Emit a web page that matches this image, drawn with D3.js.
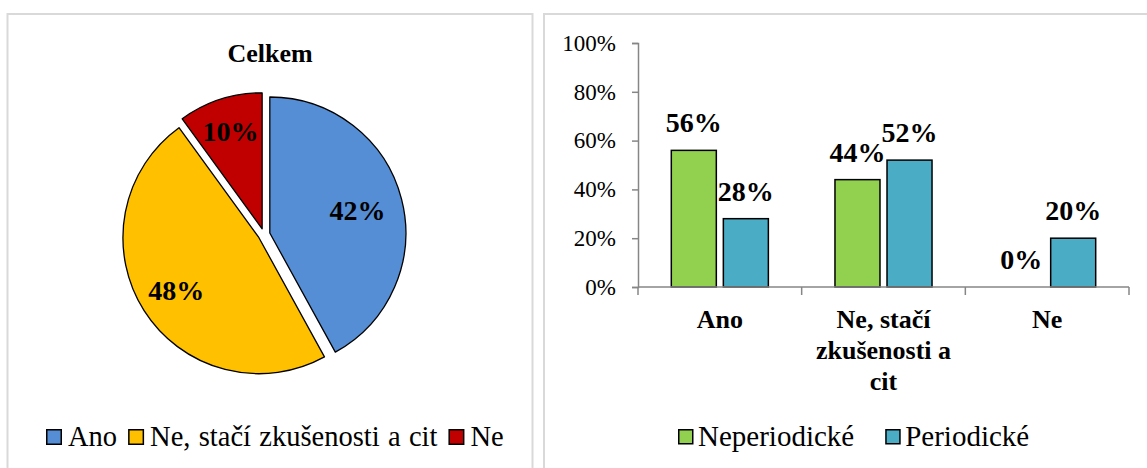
<!DOCTYPE html>
<html>
<head>
<meta charset="utf-8">
<script src="https://cdn.jsdelivr.net/npm/d3@7"></script>
<style>
  html, body { margin: 0; padding: 0; background: #fff; }
  #chart text { font-family: 'Liberation Serif'; }
</style>
</head>
<body>
<svg id="chart" width="1147" height="468"></svg>
<script>
// ---- data ----
const pieTitle = "Celkem";
const pieCategories = ["Ano", "Ne, stačí zkušenosti a cit", "Ne"];
const pieValues = [0.42, 0.48, 0.10];
const pieColors = ["#558ed5", "#ffc000", "#c00000"];

const barCategories = ["Ano", "Ne, stačí zkušenosti a cit", "Ne"];
const seriesNames = ["Neperiodické", "Periodické"];
const neperiodicke = [0.56, 0.44, 0.00];
const periodicke = [0.28, 0.52, 0.20];
const seriesColors = ["#92d050", "#4bacc6"];
const yTicks = [0, 0.2, 0.4, 0.6, 0.8, 1.0];

const FONT = "'Liberation Serif'";
const svg = d3.select("#chart");
const pct = d3.format(".0%");
const txt = (sel) => sel.style("font-family", FONT);

// ---- panel frames ----
svg.append("rect").attr("x", 7.5).attr("y", 14).attr("width", 525).attr("height", 470)
  .attr("fill", "#fff").attr("stroke", "#d9d9d9").attr("stroke-width", 2);
svg.append("rect").attr("x", 544).attr("y", 14).attr("width", 620).attr("height", 470)
  .attr("fill", "#fff").attr("stroke", "#d9d9d9").attr("stroke-width", 2);

// ---- pie ----
const cx = 264, cy = 234.5, R = 136, explode = 6;
// label distance from the slice tip, as a fraction of the radius (best-fit placement)
const labelFrac = [0.665, 0.72, 0.755];
svg.append("text").attr("x", 270).attr("y", 62).attr("text-anchor", "middle")
  .attr("font-size", 26).attr("font-weight", "bold").call(txt).text(pieTitle);

const pie = d3.pie().sort(null).value(d => d.v);
const arcs = pie(pieCategories.map((c, i) => ({ c, v: pieValues[i], color: pieColors[i] })));
const arc = d3.arc().innerRadius(0).outerRadius(R);

const pg = svg.append("g").attr("transform", `translate(${cx},${cy})`);
const slices = pg.selectAll("g.slice").data(arcs).join("g")
  .attr("transform", d => {
    const m = (d.startAngle + d.endAngle) / 2;
    return `translate(${Math.sin(m) * explode},${-Math.cos(m) * explode})`;
  });
slices.append("path").attr("d", arc).attr("fill", d => d.data.color)
  .attr("stroke", "#000").attr("stroke-width", 1.3).attr("stroke-linejoin", "round");
slices.append("text")
  .attr("transform", (d, i) => {
    const r = R * labelFrac[i];
    return `translate(${d3.arc().innerRadius(r).outerRadius(r).centroid(d)})`;
  })
  .attr("text-anchor", "middle").attr("dy", "0.34em")
  .attr("font-size", 28).attr("font-weight", "bold").call(txt)
  .text(d => pct(d.data.v));

// pie legend
const pl = svg.append("g").attr("transform", "translate(46,0)");
let lx = 0;
pieCategories.forEach((c, i) => {
  pl.append("rect").attr("x", lx + 0.75).attr("y", 429.75).attr("width", 14.5).attr("height", 14.5)
    .attr("fill", pieColors[i]).attr("stroke", "#000").attr("stroke-width", 1.5);
  const t = pl.append("text").attr("x", lx + 22).attr("y", 446)
    .attr("font-size", 28.5).attr("word-spacing", 1.2).call(txt).text(c);
  lx += 22 + t.node().getComputedTextLength() + 11;
});

// ---- bar chart ----
const x0 = d3.scaleBand().domain(barCategories).range([638, 1129]).padding(0);
const x1 = d3.scaleBand().domain(seriesNames).range([0, x0.bandwidth()])
  .paddingInner(0.135).paddingOuter(0.64);
const y = d3.scaleLinear().domain([0, 1]).range([287, 43]);

const yAxis = svg.append("g").attr("transform", "translate(638,0)")
  .call(d3.axisLeft(y).tickValues(yTicks).tickFormat(pct).tickSize(6).tickPadding(16));
yAxis.select(".domain").attr("stroke", "#868686").attr("stroke-width", 1.5);
yAxis.selectAll(".tick line").attr("stroke", "#868686").attr("stroke-width", 1.5);
yAxis.selectAll(".tick text").attr("font-size", 23).attr("fill", "#000").call(txt);

const series = seriesNames.map((s, i) => ({ name: s, color: seriesColors[i], values: i === 0 ? neperiodicke : periodicke }));

const bg = svg.append("g");
series.forEach(s => {
  bg.selectAll(null).data(barCategories.map((c, j) => ({ c, v: s.values[j] }))).join("rect")
    .filter(d => d.v > 0)
    .attr("x", d => x0(d.c) + x1(s.name))
    .attr("y", d => y(d.v))
    .attr("width", x1.bandwidth())
    .attr("height", d => y(0) - y(d.v))
    .attr("fill", s.color).attr("stroke", "#000").attr("stroke-width", 1.5);
});

// x axis line and category boundary ticks
const xa = svg.append("g");
xa.append("line").attr("x1", 638).attr("x2", 1129).attr("y1", y(0)).attr("y2", y(0))
  .attr("stroke", "#868686").attr("stroke-width", 1.5);
const bounds = barCategories.map(c => x0(c)).concat([x0.range()[1]]);
xa.selectAll("line.tk").data(bounds).join("line").attr("class", "tk")
  .attr("x1", d => d).attr("x2", d => d).attr("y1", y(0)).attr("y2", y(0) + 8)
  .attr("stroke", "#868686").attr("stroke-width", 1.5);

// value labels
series.forEach(s => {
  bg.selectAll(null).data(barCategories.map((c, j) => ({ c, v: s.values[j] }))).join("text")
    .attr("x", d => x0(d.c) + x1(s.name) + x1.bandwidth() / 2)
    .attr("y", d => y(d.v) - 18)
    .attr("text-anchor", "middle").call(txt)
    .attr("font-size", 28).attr("font-weight", "bold")
    .text(d => pct(d.v));
});

// wrapped category labels
const catG = svg.append("g");
barCategories.forEach(c => {
  const t = catG.append("text").attr("text-anchor", "middle").call(txt)
    .attr("font-size", 26).attr("font-weight", "bold");
  const words = c.split(" ");
  let lines = [], cur = [];
  const probe = t.append("tspan");
  words.forEach(w => {
    const test = cur.concat([w]).join(" ");
    probe.text(test);
    if (probe.node().getComputedTextLength() > 160 && cur.length) {
      lines.push(cur.join(" ")); cur = [w];
    } else cur.push(w);
  });
  lines.push(cur.join(" "));
  probe.remove();
  const cxm = x0(c) + x0.bandwidth() / 2;
  lines.forEach((ln, k) => {
    t.append("tspan").attr("x", cxm).attr("y", y(0) + 41 + k * 31).text(ln);
  });
});

// bar legend
const bl = svg.append("g").attr("transform", "translate(678,0)");
let bx = 0;
series.forEach(s => {
  bl.append("rect").attr("x", bx + 0.75).attr("y", 429.75).attr("width", 14).attr("height", 14)
    .attr("fill", s.color).attr("stroke", "#000").attr("stroke-width", 1.5);
  const t = bl.append("text").attr("x", bx + 20).attr("y", 446)
    .attr("font-size", 29).call(txt).text(s.name);
  bx += 20 + t.node().getComputedTextLength() + 31;
});
</script>
</body>
</html>
